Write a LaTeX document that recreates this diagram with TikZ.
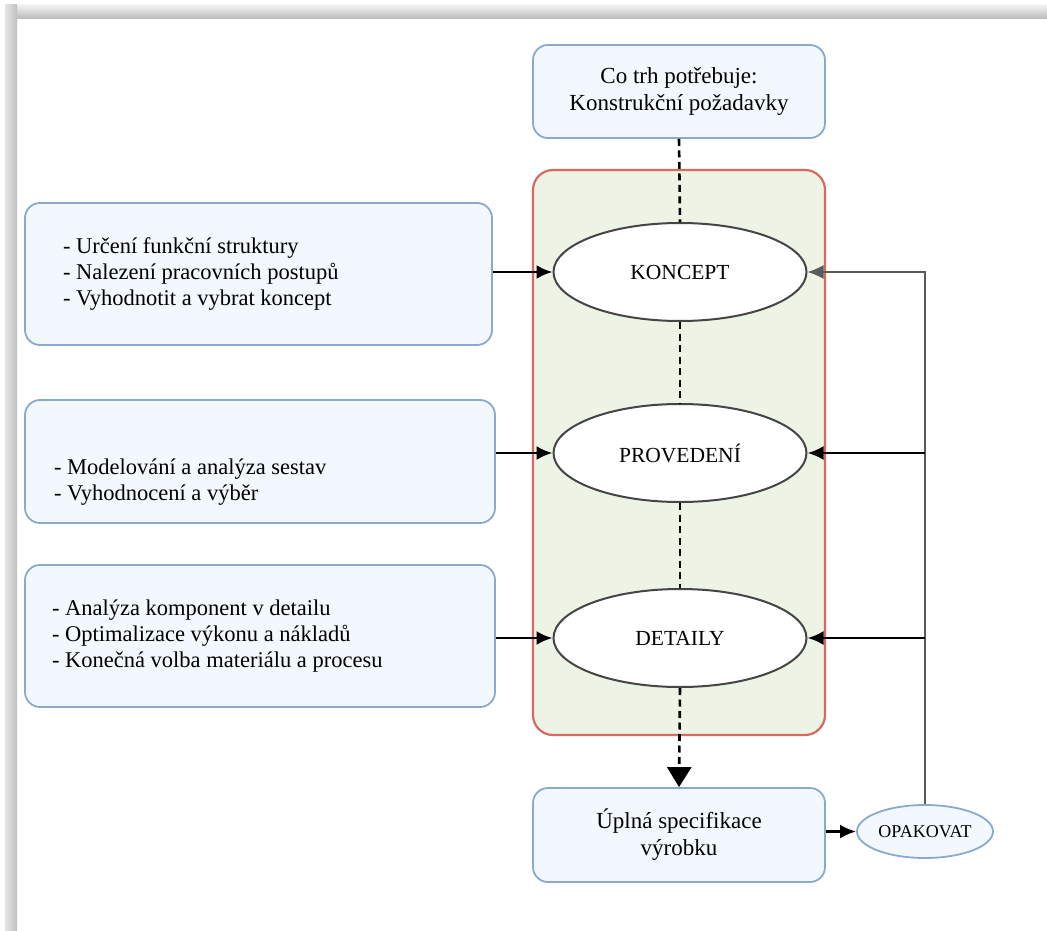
\documentclass[tikz,border=0pt]{standalone}
\usepackage{fontspec}
\setmainfont{Liberation Serif}
\usetikzlibrary{shapes.geometric,arrows.meta}
\definecolor{boxline}{HTML}{8AAACD}
\definecolor{boxfill}{HTML}{F2F8FE}
\definecolor{phaseline}{HTML}{D66A60}
\definecolor{phasefill}{HTML}{EEF4E5}
\definecolor{ovalline}{HTML}{454545}
\definecolor{loopline}{HTML}{5A5A5A}
\begin{document}
\begin{tikzpicture}[x=1pt,y=-1pt,
  infobox/.style={draw=boxline, fill=boxfill, line width=1.8pt, rounded corners=15pt, inner sep=0pt},
  listbox/.style={infobox, font=\fontsize{22.5}{26}\selectfont},
  endbox/.style={infobox, align=center, font=\fontsize{23}{27}\selectfont},
  phase/.style={ellipse, draw=ovalline, fill=white, line width=2pt,
    minimum width=253pt, minimum height=98pt, inner sep=0pt, font=\fontsize{21.5}{26}\selectfont},
  flow/.style={line width=2.6pt, -{Latex[length=16pt,width=14pt]}},
  feedback/.style={draw=loopline, line width=1.6pt, -{Latex[length=16pt,width=14pt]}},
  dots/.style={line width=2.6pt, dash pattern=on 7pt off 4.5pt}
]
\useasboundingbox (0,0) rectangle (1047,931);
\fill[white] (0,0) rectangle (1047,931);

% page frame shadow
\shade[top color=gray!10, bottom color=gray!55] (5,5) rectangle (1047,19);
\shade[left color=gray!20, right color=gray!50] (5,5) rectangle (17,931);

% green stage container
\node[draw=phaseline, fill=phasefill, line width=2.2pt, rounded corners=20pt,
  minimum width=292pt, minimum height=565pt, inner sep=0pt] (stages) at (679,452.5) {};

% requirement and result boxes
\node[endbox, minimum width=292pt, minimum height=93pt] (need) at (679,91.5)
  {Co trh potřebuje:\\Konstrukční požadavky};
\node[endbox, minimum width=292pt, minimum height=94pt] (spec) at (679,835)
  {Úplná specifikace\\výrobku};

% stages
\node[phase] (koncept) at (680,272) {KONCEPT};
\node[phase] (provedeni) at (680,453) {PROVEDENÍ};
\node[phase] (detaily) at (680,638) {DETAILY};

% activity lists
\node[listbox, minimum width=467pt, minimum height=142pt, inner xsep=38pt] (list1) at (258.5,274)
  {\parbox{391pt}{- Určení funkční struktury\\- Nalezení pracovních postupů\\- Vyhodnotit a vybrat koncept}};
\node[listbox, minimum width=470pt, minimum height=123pt, inner xsep=29pt] (list2) at (260,461.5)
  {\parbox[c][82pt][b]{412pt}{- Modelování a analýza sestav\\- Vyhodnocení a výběr}};
\node[listbox, minimum width=470pt, minimum height=142pt, inner xsep=27pt] (list3) at (260,636)
  {\parbox{416pt}{- Analýza komponent v detailu\\- Optimalizace výkonu a nákladů\\- Konečná volba materiálu a procesu}};

% repeat oval
\node[ellipse, draw=boxline, fill=boxfill, line width=1.8pt, minimum width=136pt, minimum height=53pt,
  inner sep=0pt, font=\fontsize{18}{22}\selectfont] (opak) at (925,831.5) {OPAKOVAT};

% dotted main flow
\draw[dots] (need.south) -- (koncept.north);
\draw[dots] (koncept.south) -- (provedeni.north);
\draw[dots] (provedeni.south) -- (detaily.north);
\draw[dots, -{Triangle[length=20pt,width=24pt]}] (detaily.south) -- (spec.north);

% inputs from the activity lists
\draw[flow] (list1.east |- koncept) -- (koncept.west);
\draw[flow] (list2.east |- provedeni) -- (provedeni.west);
\draw[flow] (list3.east |- detaily) -- (detaily.west);

% result and feedback loop
\draw[flow] (spec.east |- opak) -- (opak.west);
\draw[feedback] (opak.north) -- (opak.north |- koncept) -- (koncept.east);
\draw[flow] (opak.north |- provedeni) -- (provedeni.east);
\draw[flow] (opak.north |- detaily) -- (detaily.east);
\end{tikzpicture}
\end{document}
